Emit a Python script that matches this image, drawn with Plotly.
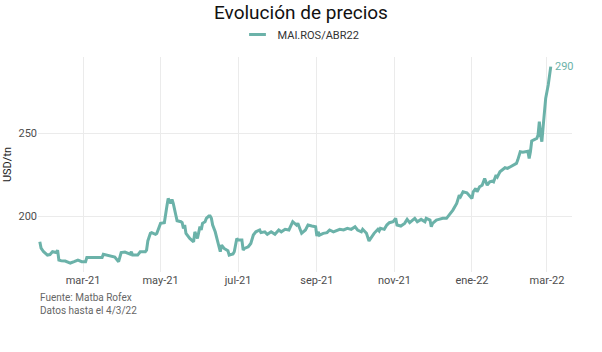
import plotly.graph_objects as go

dates = [
    "2021-01-26", "2021-01-27", "2021-01-29", "2021-02-01", "2021-02-03", "2021-02-05",
    "2021-02-08", "2021-02-09", "2021-02-10", "2021-02-12", "2021-02-15", "2021-02-19",
    "2021-02-22", "2021-02-25", "2021-02-28", "2021-03-03", "2021-03-04", "2021-03-08",
    "2021-03-12", "2021-03-16", "2021-03-17", "2021-03-20", "2021-03-24",
    "2021-03-26", "2021-03-29", "2021-03-31", "2021-04-03", "2021-04-07", "2021-04-08",
    "2021-04-09", "2021-04-13", "2021-04-15", "2021-04-19", "2021-04-20", "2021-04-21",
    "2021-04-23", "2021-04-24", "2021-04-27", "2021-04-28", "2021-04-30", "2021-05-01",
    "2021-05-04", "2021-05-05", "2021-05-06", "2021-05-07", "2021-05-09", "2021-05-10",
    "2021-05-11", "2021-05-13", "2021-05-14", "2021-05-17", "2021-05-18", "2021-05-19",
    "2021-05-20", "2021-05-21", "2021-05-24", "2021-05-27",
    "2021-05-28", "2021-05-30", "2021-05-31", "2021-06-01", "2021-06-02", "2021-06-03",
    "2021-06-05", "2021-06-06", "2021-06-08", "2021-06-09", "2021-06-10", "2021-06-11",
    "2021-06-13", "2021-06-14", "2021-06-15", "2021-06-16", "2021-06-17", "2021-06-18",
    "2021-06-20", "2021-06-23", "2021-06-24", "2021-06-27", "2021-06-28", "2021-06-30",
    "2021-07-01", "2021-07-04", "2021-07-05", "2021-07-06", "2021-07-09", "2021-07-11",
    "2021-07-13", "2021-07-15", "2021-07-18", "2021-07-19", "2021-07-22", "2021-07-24",
    "2021-07-27",
    "2021-07-30", "2021-08-02", "2021-08-04", "2021-08-07", "2021-08-10", "2021-08-11",
    "2021-08-13", "2021-08-16", "2021-08-17", "2021-08-19", "2021-08-20", "2021-08-23",
    "2021-08-25", "2021-08-28", "2021-08-31", "2021-09-01", "2021-09-02", "2021-09-03",
    "2021-09-06", "2021-09-09", "2021-09-11", "2021-09-14", "2021-09-17", "2021-09-19",
    "2021-09-22", "2021-09-25",
    "2021-09-28", "2021-10-01", "2021-10-03", "2021-10-06", "2021-10-07", "2021-10-10",
    "2021-10-12", "2021-10-14", "2021-10-16", "2021-10-19", "2021-10-20", "2021-10-21",
    "2021-10-24", "2021-10-26", "2021-10-28", "2021-10-31", "2021-11-02", "2021-11-03",
    "2021-11-06", "2021-11-09", "2021-11-11", "2021-11-13", "2021-11-17", "2021-11-19",
    "2021-11-22", "2021-11-25",
    "2021-11-26", "2021-11-29", "2021-11-30", "2021-12-01", "2021-12-04", "2021-12-06",
    "2021-12-09", "2021-12-12", "2021-12-14", "2021-12-17", "2021-12-20", "2021-12-22",
    "2021-12-23", "2021-12-25", "2021-12-28", "2021-12-30", "2022-01-01", "2022-01-02",
    "2022-01-04", "2022-01-05", "2022-01-07", "2022-01-09", "2022-01-11", "2022-01-13",
    "2022-01-15", "2022-01-17", "2022-01-18", "2022-01-20",
    "2022-01-21", "2022-01-23", "2022-01-25", "2022-01-27", "2022-01-29", "2022-01-31",
    "2022-02-03", "2022-02-05", "2022-02-06", "2022-02-08", "2022-02-10", "2022-02-12",
    "2022-02-14", "2022-02-15", "2022-02-16", "2022-02-17", "2022-02-19", "2022-02-21",
    "2022-02-22", "2022-02-23", "2022-02-24", "2022-02-25", "2022-02-26", "2022-02-28",
    "2022-03-02", "2022-03-04",
]

prices = [
    184.5, 180.7, 178.5, 176.5, 176.8, 178.5,
    178.0, 179.5, 173.5, 173.0, 172.9, 171.7,
    172.5, 173.5, 172.5, 172.5, 175.0, 175.0,
    175.2, 175.0, 177.0, 176.5, 176.0,
    175.3, 172.5, 178.0, 178.3, 177.1, 178.5,
    176.5, 176.5, 178.5, 178.5, 179.5, 185.0,
    189.6, 190.0, 189.0, 189.5, 194.0, 195.6,
    196.0, 200.0, 206.0, 210.6, 207.6, 210.0,
    207.6, 200.6, 197.2, 196.6, 196.0, 192.6,
    194.6, 189.5, 186.5, 184.5,
    190.5, 186.5, 189.5, 193.6, 191.6, 195.6,
    196.6, 198.6, 200.0, 200.0, 198.6, 194.6,
    190.5, 187.6, 184.5, 181.5, 178.5, 182.5,
    180.5, 179.1, 176.5, 177.1, 178.5, 186.5,
    185.5, 185.5, 179.5, 180.5, 181.5, 183.5,
    188.6, 190.5, 191.6, 190.0, 190.5, 189.0,
    190.5,
    189.0, 191.6, 190.5, 192.0, 191.6, 193.6,
    196.6, 194.6, 195.6, 191.6, 189.6, 191.6,
    194.6, 194.0, 193.6, 188.0, 190.5, 188.5,
    189.6, 190.0, 191.6, 190.5, 191.6, 192.0,
    191.6, 192.6,
    192.0, 193.6, 191.6, 190.5, 192.0, 189.6,
    185.0, 187.6, 189.6, 192.0, 191.0, 192.6,
    192.0, 194.6, 196.0, 196.6, 198.6, 194.6,
    194.0, 195.6, 198.0, 196.0, 198.6, 196.6,
    198.0, 196.6,
    198.6, 197.6, 193.6, 195.6, 197.6, 198.0,
    198.6, 198.6, 200.6, 203.6, 207.6, 212.6,
    211.6, 214.6, 214.0, 212.0, 210.6, 214.6,
    216.6, 214.6, 217.6, 218.6, 222.6, 218.6,
    220.6, 221.0, 220.6, 224.7,
    223.6, 226.7, 228.0, 229.1, 228.7, 229.7,
    230.7, 231.7, 233.7, 238.7, 238.4, 238.7,
    239.0, 234.7, 238.7, 245.2, 245.8, 246.8,
    248.8, 256.8, 248.8, 244.8, 253.8, 270.9,
    278.9, 290.0,
]

series_name = "MAI.ROS/ABR22"
tick_dates = ["2021-03-01", "2021-05-01", "2021-07-01", "2021-09-01",
              "2021-11-01", "2022-01-01", "2022-03-01"]
tick_labels = ["mar-21", "may-21", "jul-21", "sep-21", "nov-21", "ene-22", "mar-22"]
y_ticks = [200, 250]

color = "#6bb2a9"
font = "Roboto"

fig = go.Figure()
fig.add_trace(go.Scatter(
    x=dates, y=prices, mode="lines", name=series_name,
    line=dict(color=color, width=3), showlegend=False,
))
# legend entry with a short line key
fig.add_trace(go.Scatter(
    x=[None], y=[None], mode="markers", name=series_name,
    marker=dict(symbol="line-ew-open", size=12, color=color,
                line=dict(width=3, color=color)),
    showlegend=True,
))

fig.add_annotation(
    x=dates[-1], y=prices[-1], text=f"{prices[-1]:.0f}",
    showarrow=False, xanchor="left", yanchor="middle", xshift=2,
    font=dict(family=font, size=11, color=color),
)

fig.add_annotation(
    x=0, y=-0.083, xref="paper", yref="paper", xanchor="left", yanchor="top",
    align="left", showarrow=False,
    text="Fuente: Matba Rofex<br>Datos hasta el 4/3/22",
    font=dict(family=font, size=10, color="#666666"),
)

fig.update_layout(
    width=602, height=352,
    margin=dict(l=38, r=30, t=57, b=80, autoexpand=False),
    paper_bgcolor="white", plot_bgcolor="white",
    font=dict(family=font, color="#4d4d4d"),
    title=dict(text="Evolución de precios", x=0.5, xanchor="center",
               xref="container", y=0.966, yanchor="middle", yref="container",
               font=dict(family=font, size=19, color="#111111")),
    showlegend=True,
    legend=dict(orientation="h", x=0.5, xanchor="center", xref="container",
                y=0.902, yanchor="middle", yref="container",
                font=dict(family=font, size=11, color="#333333")),
)

fig.update_xaxes(
    range=["2021-01-24 14:00", "2022-03-20 17:00"],
    tickvals=tick_dates, ticktext=tick_labels,
    showgrid=True, gridcolor="#ebebeb", gridwidth=1,
    zeroline=False, showline=False, ticks="", automargin=False,
    tickfont=dict(family=font, size=11, color="#4d4d4d"),
)
fig.update_yaxes(
    range=[166.3, 295.8],
    tickvals=y_ticks, automargin=False,
    showgrid=True, gridcolor="#ebebeb", gridwidth=1,
    zeroline=False, showline=False, ticks="",
    tickfont=dict(family=font, size=11, color="#4d4d4d"),
    title=dict(text="USD/tn", font=dict(family=font, size=11, color="#222222"), standoff=4),
)

fig.write_html("out.html")
